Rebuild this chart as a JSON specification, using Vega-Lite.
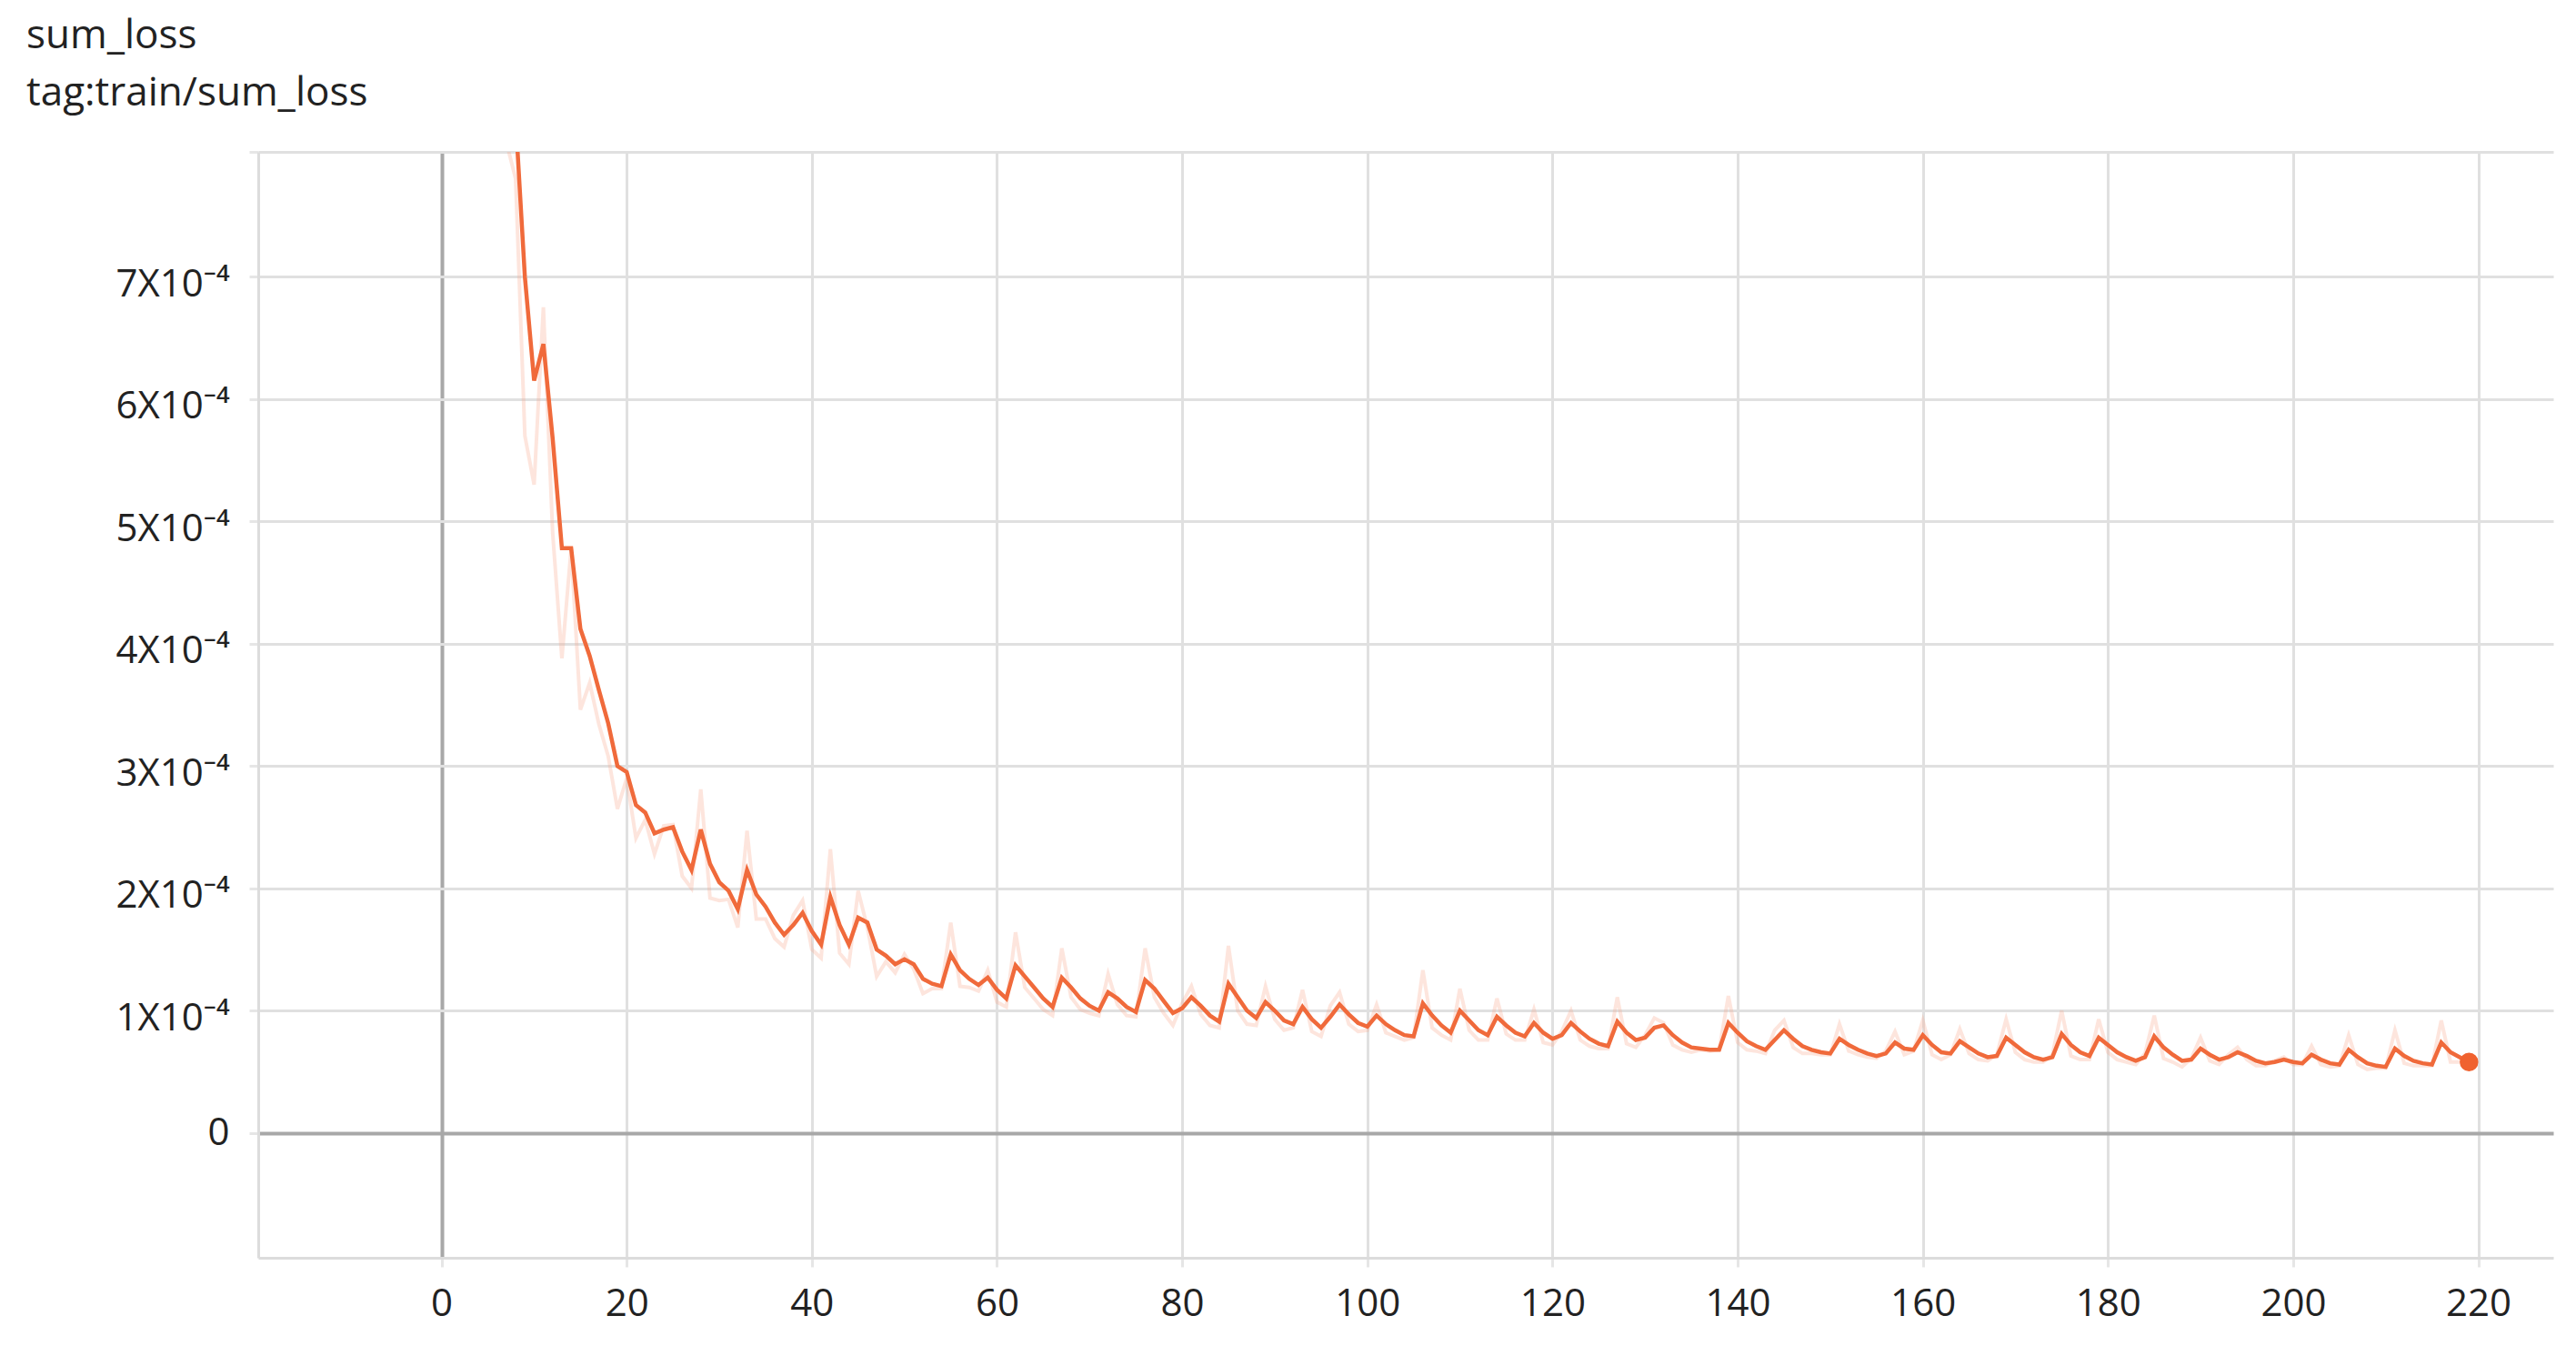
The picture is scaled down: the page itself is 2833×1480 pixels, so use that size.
{
  "$schema": "https://vega.github.io/schema/vega-lite/v6.json",
  "width": 2524,
  "height": 1216,
  "autosize": {"type": "none"},
  "padding": {"left": 284, "top": 167, "right": 25, "bottom": 97},
  "background": "#ffffff",
  "title": {
    "text": ["sum_loss", "tag:train/sum_loss"],
    "anchor": "start",
    "frame": "group",
    "orient": "top",
    "dx": -255,
    "dy": 6,
    "fontSize": 44,
    "fontWeight": "normal",
    "font": "'Open Sans', 'Noto Sans', sans-serif",
    "color": "#222222",
    "lineHeight": 63,
    "baseline": "alphabetic",
    "offset": 0
  },
  "config": {
    "view": {"stroke": null},
    "axis": {
      "labelFont": "'Open Sans', 'Noto Sans', sans-serif",
      "labelFontSize": 42,
      "labelColor": "#222222",
      "title": null
    }
  },
  "data": {
    "values": [
      {"step":0,"v":30e-4,"raw":30e-4},
      {"step":1,"v":22e-4,"raw":14e-4},
      {"step":2,"v":17e-4,"raw":12e-4},
      {"step":3,"v":14e-4,"raw":11e-4},
      {"step":4,"v":12e-4,"raw":10e-4},
      {"step":5,"v":10.5e-4,"raw":9e-4},
      {"step":6,"v":9.5e-4,"raw":8.5e-4},
      {"step":7,"v":8.8e-4,"raw":8.1e-4},
      {"step":8,"v":8.3e-4,"raw":7.8e-4},
      {"step":9,"v":7.0e-4,"raw":5.7e-4},
      {"step":10,"v":6.15e-4,"raw":5.3e-4},
      {"step":11,"v":6.45e-4,"raw":6.75e-4},
      {"step":12,"v":5.68e-4,"raw":4.91e-4},
      {"step":13,"v":4.78e-4,"raw":3.88e-4},
      {"step":14,"v":4.78e-4,"raw":4.78e-4},
      {"step":15,"v":4.12e-4,"raw":3.46e-4},
      {"step":16,"v":3.9e-4,"raw":3.68e-4},
      {"step":17,"v":3.62e-4,"raw":3.34e-4},
      {"step":18,"v":3.35e-4,"raw":3.08e-4},
      {"step":19,"v":3.0e-4,"raw":2.65e-4},
      {"step":20,"v":2.95e-4,"raw":2.9e-4},
      {"step":21,"v":2.68e-4,"raw":2.41e-4},
      {"step":22,"v":2.62e-4,"raw":2.56e-4},
      {"step":23,"v":2.45e-4,"raw":2.28e-4},
      {"step":24,"v":2.48e-4,"raw":2.51e-4},
      {"step":25,"v":2.5e-4,"raw":2.52e-4},
      {"step":26,"v":2.3e-4,"raw":2.1e-4},
      {"step":27,"v":2.15e-4,"raw":2.0e-4},
      {"step":28,"v":2.48e-4,"raw":2.81e-4},
      {"step":29,"v":2.2e-4,"raw":1.92e-4},
      {"step":30,"v":2.05e-4,"raw":1.9e-4},
      {"step":31,"v":1.98e-4,"raw":1.91e-4},
      {"step":32,"v":1.83e-4,"raw":1.68e-4},
      {"step":33,"v":2.15e-4,"raw":2.47e-4},
      {"step":34,"v":1.95e-4,"raw":1.75e-4},
      {"step":35,"v":1.85e-4,"raw":1.75e-4},
      {"step":36,"v":1.72e-4,"raw":1.59e-4},
      {"step":37,"v":1.62e-4,"raw":1.52e-4},
      {"step":38,"v":1.7e-4,"raw":1.78e-4},
      {"step":39,"v":1.8e-4,"raw":1.9e-4},
      {"step":40,"v":1.65e-4,"raw":1.5e-4},
      {"step":41,"v":1.54e-4,"raw":1.43e-4},
      {"step":42,"v":1.93e-4,"raw":2.32e-4},
      {"step":43,"v":1.7e-4,"raw":1.47e-4},
      {"step":44,"v":1.54e-4,"raw":1.38e-4},
      {"step":45,"v":1.76e-4,"raw":1.98e-4},
      {"step":46,"v":1.72e-4,"raw":1.68e-4},
      {"step":47,"v":1.5e-4,"raw":1.28e-4},
      {"step":48,"v":1.45e-4,"raw":1.4e-4},
      {"step":49,"v":1.38e-4,"raw":1.31e-4},
      {"step":50,"v":1.42e-4,"raw":1.46e-4},
      {"step":51,"v":1.38e-4,"raw":1.34e-4},
      {"step":52,"v":1.26e-4,"raw":1.14e-4},
      {"step":53,"v":1.22e-4,"raw":1.18e-4},
      {"step":54,"v":1.2e-4,"raw":1.18e-4},
      {"step":55,"v":1.46e-4,"raw":1.72e-4},
      {"step":56,"v":1.33e-4,"raw":1.2e-4},
      {"step":57,"v":1.26e-4,"raw":1.19e-4},
      {"step":58,"v":1.21e-4,"raw":1.16e-4},
      {"step":59,"v":1.27e-4,"raw":1.33e-4},
      {"step":60,"v":1.17e-4,"raw":1.07e-4},
      {"step":61,"v":1.1e-4,"raw":1.03e-4},
      {"step":62,"v":1.37e-4,"raw":1.64e-4},
      {"step":63,"v":1.28e-4,"raw":1.19e-4},
      {"step":64,"v":1.19e-4,"raw":1.1e-4},
      {"step":65,"v":1.1e-4,"raw":1.01e-4},
      {"step":66,"v":1.03e-4,"raw":0.96e-4},
      {"step":67,"v":1.27e-4,"raw":1.51e-4},
      {"step":68,"v":1.19e-4,"raw":1.11e-4},
      {"step":69,"v":1.1e-4,"raw":1.01e-4},
      {"step":70,"v":1.04e-4,"raw":0.98e-4},
      {"step":71,"v":1.0e-4,"raw":0.96e-4},
      {"step":72,"v":1.15e-4,"raw":1.3e-4},
      {"step":73,"v":1.1e-4,"raw":1.05e-4},
      {"step":74,"v":1.03e-4,"raw":0.96e-4},
      {"step":75,"v":0.99e-4,"raw":0.95e-4},
      {"step":76,"v":1.25e-4,"raw":1.51e-4},
      {"step":77,"v":1.18e-4,"raw":1.11e-4},
      {"step":78,"v":1.08e-4,"raw":0.98e-4},
      {"step":79,"v":0.98e-4,"raw":0.88e-4},
      {"step":80,"v":1.02e-4,"raw":1.06e-4},
      {"step":81,"v":1.11e-4,"raw":1.2e-4},
      {"step":82,"v":1.04e-4,"raw":0.97e-4},
      {"step":83,"v":0.96e-4,"raw":0.88e-4},
      {"step":84,"v":0.91e-4,"raw":0.86e-4},
      {"step":85,"v":1.22e-4,"raw":1.53e-4},
      {"step":86,"v":1.11e-4,"raw":1.0e-4},
      {"step":87,"v":1.0e-4,"raw":0.89e-4},
      {"step":88,"v":0.94e-4,"raw":0.88e-4},
      {"step":89,"v":1.07e-4,"raw":1.2e-4},
      {"step":90,"v":1.0e-4,"raw":0.93e-4},
      {"step":91,"v":0.92e-4,"raw":0.84e-4},
      {"step":92,"v":0.89e-4,"raw":0.86e-4},
      {"step":93,"v":1.03e-4,"raw":1.17e-4},
      {"step":94,"v":0.93e-4,"raw":0.83e-4},
      {"step":95,"v":0.86e-4,"raw":0.79e-4},
      {"step":96,"v":0.95e-4,"raw":1.04e-4},
      {"step":97,"v":1.05e-4,"raw":1.15e-4},
      {"step":98,"v":0.97e-4,"raw":0.89e-4},
      {"step":99,"v":0.9e-4,"raw":0.83e-4},
      {"step":100,"v":0.87e-4,"raw":0.84e-4},
      {"step":101,"v":0.96e-4,"raw":1.05e-4},
      {"step":102,"v":0.89e-4,"raw":0.82e-4},
      {"step":103,"v":0.84e-4,"raw":0.79e-4},
      {"step":104,"v":0.8e-4,"raw":0.76e-4},
      {"step":105,"v":0.79e-4,"raw":0.78e-4},
      {"step":106,"v":1.06e-4,"raw":1.33e-4},
      {"step":107,"v":0.96e-4,"raw":0.86e-4},
      {"step":108,"v":0.88e-4,"raw":0.8e-4},
      {"step":109,"v":0.82e-4,"raw":0.76e-4},
      {"step":110,"v":1.0e-4,"raw":1.18e-4},
      {"step":111,"v":0.92e-4,"raw":0.84e-4},
      {"step":112,"v":0.84e-4,"raw":0.76e-4},
      {"step":113,"v":0.8e-4,"raw":0.76e-4},
      {"step":114,"v":0.95e-4,"raw":1.1e-4},
      {"step":115,"v":0.88e-4,"raw":0.81e-4},
      {"step":116,"v":0.82e-4,"raw":0.76e-4},
      {"step":117,"v":0.79e-4,"raw":0.76e-4},
      {"step":118,"v":0.9e-4,"raw":1.01e-4},
      {"step":119,"v":0.82e-4,"raw":0.74e-4},
      {"step":120,"v":0.77e-4,"raw":0.72e-4},
      {"step":121,"v":0.8e-4,"raw":0.83e-4},
      {"step":122,"v":0.9e-4,"raw":1.0e-4},
      {"step":123,"v":0.83e-4,"raw":0.76e-4},
      {"step":124,"v":0.77e-4,"raw":0.71e-4},
      {"step":125,"v":0.73e-4,"raw":0.69e-4},
      {"step":126,"v":0.71e-4,"raw":0.69e-4},
      {"step":127,"v":0.91e-4,"raw":1.11e-4},
      {"step":128,"v":0.82e-4,"raw":0.73e-4},
      {"step":129,"v":0.76e-4,"raw":0.7e-4},
      {"step":130,"v":0.78e-4,"raw":0.8e-4},
      {"step":131,"v":0.86e-4,"raw":0.94e-4},
      {"step":132,"v":0.88e-4,"raw":0.9e-4},
      {"step":133,"v":0.8e-4,"raw":0.72e-4},
      {"step":134,"v":0.74e-4,"raw":0.68e-4},
      {"step":135,"v":0.7e-4,"raw":0.66e-4},
      {"step":136,"v":0.69e-4,"raw":0.68e-4},
      {"step":137,"v":0.68e-4,"raw":0.67e-4},
      {"step":138,"v":0.68e-4,"raw":0.68e-4},
      {"step":139,"v":0.9e-4,"raw":1.12e-4},
      {"step":140,"v":0.82e-4,"raw":0.74e-4},
      {"step":141,"v":0.75e-4,"raw":0.68e-4},
      {"step":142,"v":0.71e-4,"raw":0.67e-4},
      {"step":143,"v":0.68e-4,"raw":0.65e-4},
      {"step":144,"v":0.76e-4,"raw":0.84e-4},
      {"step":145,"v":0.84e-4,"raw":0.92e-4},
      {"step":146,"v":0.77e-4,"raw":0.7e-4},
      {"step":147,"v":0.71e-4,"raw":0.65e-4},
      {"step":148,"v":0.68e-4,"raw":0.65e-4},
      {"step":149,"v":0.66e-4,"raw":0.64e-4},
      {"step":150,"v":0.65e-4,"raw":0.64e-4},
      {"step":151,"v":0.77e-4,"raw":0.89e-4},
      {"step":152,"v":0.72e-4,"raw":0.67e-4},
      {"step":153,"v":0.68e-4,"raw":0.64e-4},
      {"step":154,"v":0.65e-4,"raw":0.62e-4},
      {"step":155,"v":0.63e-4,"raw":0.61e-4},
      {"step":156,"v":0.65e-4,"raw":0.67e-4},
      {"step":157,"v":0.74e-4,"raw":0.83e-4},
      {"step":158,"v":0.69e-4,"raw":0.64e-4},
      {"step":159,"v":0.68e-4,"raw":0.67e-4},
      {"step":160,"v":0.8e-4,"raw":0.92e-4},
      {"step":161,"v":0.72e-4,"raw":0.64e-4},
      {"step":162,"v":0.66e-4,"raw":0.6e-4},
      {"step":163,"v":0.65e-4,"raw":0.64e-4},
      {"step":164,"v":0.75e-4,"raw":0.85e-4},
      {"step":165,"v":0.7e-4,"raw":0.65e-4},
      {"step":166,"v":0.65e-4,"raw":0.6e-4},
      {"step":167,"v":0.62e-4,"raw":0.59e-4},
      {"step":168,"v":0.63e-4,"raw":0.64e-4},
      {"step":169,"v":0.78e-4,"raw":0.93e-4},
      {"step":170,"v":0.72e-4,"raw":0.66e-4},
      {"step":171,"v":0.66e-4,"raw":0.6e-4},
      {"step":172,"v":0.62e-4,"raw":0.58e-4},
      {"step":173,"v":0.6e-4,"raw":0.58e-4},
      {"step":174,"v":0.62e-4,"raw":0.64e-4},
      {"step":175,"v":0.81e-4,"raw":1.0e-4},
      {"step":176,"v":0.72e-4,"raw":0.63e-4},
      {"step":177,"v":0.66e-4,"raw":0.6e-4},
      {"step":178,"v":0.63e-4,"raw":0.6e-4},
      {"step":179,"v":0.78e-4,"raw":0.93e-4},
      {"step":180,"v":0.72e-4,"raw":0.66e-4},
      {"step":181,"v":0.66e-4,"raw":0.6e-4},
      {"step":182,"v":0.62e-4,"raw":0.58e-4},
      {"step":183,"v":0.59e-4,"raw":0.56e-4},
      {"step":184,"v":0.62e-4,"raw":0.65e-4},
      {"step":185,"v":0.79e-4,"raw":0.96e-4},
      {"step":186,"v":0.7e-4,"raw":0.61e-4},
      {"step":187,"v":0.64e-4,"raw":0.58e-4},
      {"step":188,"v":0.59e-4,"raw":0.54e-4},
      {"step":189,"v":0.6e-4,"raw":0.61e-4},
      {"step":190,"v":0.69e-4,"raw":0.78e-4},
      {"step":191,"v":0.64e-4,"raw":0.59e-4},
      {"step":192,"v":0.6e-4,"raw":0.56e-4},
      {"step":193,"v":0.62e-4,"raw":0.64e-4},
      {"step":194,"v":0.66e-4,"raw":0.7e-4},
      {"step":195,"v":0.63e-4,"raw":0.6e-4},
      {"step":196,"v":0.59e-4,"raw":0.55e-4},
      {"step":197,"v":0.57e-4,"raw":0.55e-4},
      {"step":198,"v":0.58e-4,"raw":0.59e-4},
      {"step":199,"v":0.6e-4,"raw":0.62e-4},
      {"step":200,"v":0.58e-4,"raw":0.56e-4},
      {"step":201,"v":0.57e-4,"raw":0.56e-4},
      {"step":202,"v":0.64e-4,"raw":0.71e-4},
      {"step":203,"v":0.6e-4,"raw":0.56e-4},
      {"step":204,"v":0.57e-4,"raw":0.54e-4},
      {"step":205,"v":0.56e-4,"raw":0.55e-4},
      {"step":206,"v":0.68e-4,"raw":0.8e-4},
      {"step":207,"v":0.62e-4,"raw":0.56e-4},
      {"step":208,"v":0.57e-4,"raw":0.52e-4},
      {"step":209,"v":0.55e-4,"raw":0.53e-4},
      {"step":210,"v":0.54e-4,"raw":0.53e-4},
      {"step":211,"v":0.69e-4,"raw":0.84e-4},
      {"step":212,"v":0.63e-4,"raw":0.57e-4},
      {"step":213,"v":0.59e-4,"raw":0.55e-4},
      {"step":214,"v":0.57e-4,"raw":0.55e-4},
      {"step":215,"v":0.56e-4,"raw":0.55e-4},
      {"step":216,"v":0.74e-4,"raw":0.92e-4},
      {"step":217,"v":0.66e-4,"raw":0.58e-4},
      {"step":218,"v":0.62e-4,"raw":0.58e-4},
      {"step":219,"v":0.58e-4,"raw":0.54e-4}
    ]
  },
  "encoding": {
    "x": {
      "field": "step",
      "type": "quantitative",
      "scale": {"domain": [-19.8, 228.1], "nice": false, "zero": false},
      "axis": {
        "values": [0, 20, 40, 60, 80, 100, 120, 140, 160, 180, 200, 220],
        "grid": true,
        "gridColor": {"condition": {"test": "datum.value == 0", "value": "#a8a8a8"}, "value": "#e0e0e0"},
        "gridWidth": {"condition": {"test": "datum.value == 0", "value": 4}, "value": 3},
        "domain": true,
        "domainColor": "#dcdcdc",
        "domainWidth": 3,
        "ticks": true,
        "tickColor": "#e6e6e6",
        "tickWidth": 3,
        "tickSize": 10,
        "labelPadding": 20,
        "labelFlush": false,
        "labelOverlap": false
      }
    },
    "y": {
      "type": "quantitative",
      "scale": {"domain": [-1.02e-4, 8.02e-4], "nice": false, "zero": false},
      "axis": {
        "values": [0, 1e-4, 2e-4, 3e-4, 4e-4, 5e-4, 6e-4, 7e-4, 8.02e-4],
        "labelExpr": "datum.value == 0 ? '0' : (datum.value > 7.5e-4 ? '' : round(datum.value * 10000) + 'X10\u207b\u2074')",
        "labelOffset": {"condition": {"test": "datum.value == 0", "value": 0}, "value": 8},
        "grid": true,
        "gridColor": {"condition": {"test": "datum.value == 0", "value": "#a8a8a8"}, "value": "#e0e0e0"},
        "gridWidth": {"condition": {"test": "datum.value == 0", "value": 4}, "value": 3},
        "domain": true,
        "domainColor": "#dcdcdc",
        "domainWidth": 3,
        "ticks": true,
        "tickColor": "#e6e6e6",
        "tickWidth": 3,
        "tickSize": 10,
        "labelPadding": 22,
        "labelFlush": false,
        "labelOverlap": false
      }
    }
  },
  "layer": [
    {
      "mark": {"type": "line", "clip": true, "color": "#f8a98e", "strokeWidth": 4, "opacity": 0.3, "interpolate": "linear"},
      "encoding": {"y": {"field": "raw", "type": "quantitative"}}
    },
    {
      "mark": {"type": "line", "clip": true, "color": "#f06a3b", "strokeWidth": 4.5, "interpolate": "linear"},
      "encoding": {"y": {"field": "v", "type": "quantitative"}}
    },
    {
      "transform": [{"filter": "datum.step == 219"}],
      "mark": {"type": "point", "filled": true, "color": "#f0622f", "size": 420, "opacity": 1},
      "encoding": {"y": {"field": "v", "type": "quantitative"}}
    }
  ]
}
